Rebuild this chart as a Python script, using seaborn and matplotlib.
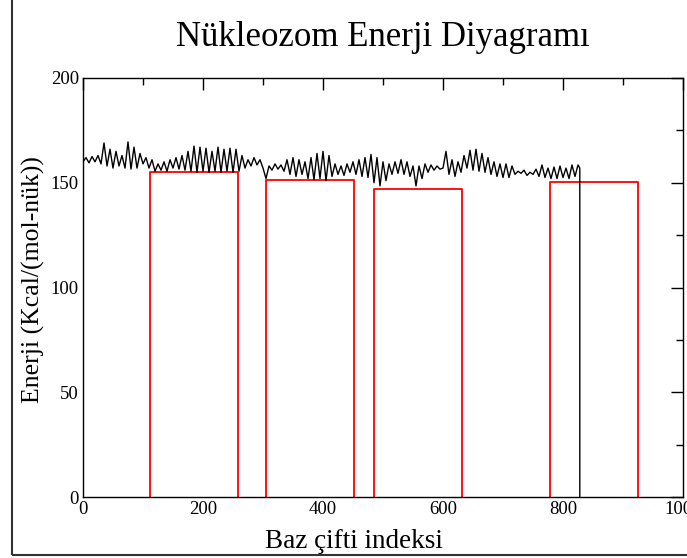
import numpy as np
import pandas as pd
import matplotlib
matplotlib.use("Agg")
import matplotlib.pyplot as plt
from matplotlib.ticker import MultipleLocator
from matplotlib.patches import Rectangle
import seaborn as sns

sns.set_style("white")
plt.rcParams['font.family'] = ['Liberation Serif', 'DejaVu Serif']

# energy along the sequence, every 5 bp
bp = list(range(0, 830, 5))
energy = [
    160, 162, 159.5, 162.5, 160, 163, 159, 169, 158, 166,
    157, 165, 158, 163, 157, 169.5, 156.5, 167, 157, 164,
    159, 162, 157, 161, 155.5, 159, 156, 160, 155.5, 161,
    157, 162, 156.5, 163, 156, 165, 155.5, 167.5, 155, 167,
    155.5, 166.5, 155, 165, 155.5, 167, 155, 166, 155.5, 166.5,
    155, 166, 155.5, 163, 157, 161, 158, 162, 158.5, 161,
    157, 152, 158, 156, 159, 156.5, 158.5, 155.5, 161, 154,
    162, 153, 161, 154, 160, 152, 162, 151.5, 164, 152,
    165, 151, 163, 153, 159, 154, 158, 153.5, 159, 155,
    160, 154, 161, 153, 162, 152.5, 163.5, 150, 162, 148.5,
    160, 151, 159, 154, 160, 154.5, 161, 154, 160, 153,
    158, 148.5, 158, 152, 159, 155, 158.5, 156, 158, 156.5,
    157, 165, 154, 161, 153, 160, 155, 163, 157, 165.5,
    156, 166, 155.5, 164, 155, 162, 154, 160, 153, 159,
    152.5, 159, 152.5, 158, 154, 155.5, 154.5, 156, 153.5, 155,
    154, 156.5, 153, 158.5, 152.5, 157, 152, 157.5, 152, 158,
    152.5, 157, 152, 158.5, 153, 158.5,
]
# the series ends at bp 828 and drops to zero
end_bp = [828, 828]
end_energy = [157, 0]

# nucleosome positions (start, end) and their energies
nuc_start = [112, 305, 485, 778]
nuc_end = [259, 452, 632, 925]
nuc_energy = [155.2, 151.3, 147.0, 150.4]

df_energy = pd.DataFrame({'x': bp + end_bp, 'y': energy + end_energy})

rx, ry, rid = [], [], []
for i, (s, e, en) in enumerate(zip(nuc_start, nuc_end, nuc_energy)):
    rx += [s, s, e, e]
    ry += [0, en, en, 0]
    rid += [i] * 4
df_nuc = pd.DataFrame({'x': rx, 'y': ry, 'nuc': rid})

fig = plt.figure(figsize=(6.87, 5.58), dpi=100)
ax = fig.add_axes([83/687, 1 - 497/558, 600/687, 419/558])

sns.lineplot(data=df_nuc, x='x', y='y', units='nuc', sort=False,
             estimator=None, color='red', lw=1.3, ax=ax)
sns.lineplot(data=df_energy, x='x', y='y', sort=False, estimator=None,
             color='black', lw=1.0, ax=ax)

ax.set_xlim(0, 1000)
ax.set_ylim(0, 200)
ax.xaxis.set_major_locator(MultipleLocator(200))
ax.xaxis.set_minor_locator(MultipleLocator(100))
ax.yaxis.set_major_locator(MultipleLocator(50))
ax.yaxis.set_minor_locator(MultipleLocator(25))
ax.tick_params(which='both', direction='in', top=True, right=True,
               width=1, labelsize=13.5, colors='black', pad=3)
ax.tick_params(which='major', length=8.5)
ax.tick_params(which='minor', length=5)
ax.set_xlabel('')
ax.set_ylabel('')
for sp in ax.spines.values():
    sp.set_linewidth(1.0)
    sp.set_color('black')
    sp.set_zorder(5)

fig.text(383/687, 1 - 37/558, 'Nükleozom Enerji Diyagramı', fontsize=25,
         ha='center', va='center', color='black')
fig.text(354/687, 1 - 541/558, 'Baz çifti indeksi', fontsize=19.5,
         ha='center', va='center', color='black')
fig.text(33/687, 1 - 280/558, 'Enerji (Kcal/(mol-nük))', fontsize=18.5,
         ha='center', va='center', rotation=90, color='black')

fig.patches.append(Rectangle((12/687, 3/558), 1, 1, transform=fig.transFigure,
                             fill=False, lw=1.5, ec='#333333'))

fig.savefig('out.png', dpi=100)
